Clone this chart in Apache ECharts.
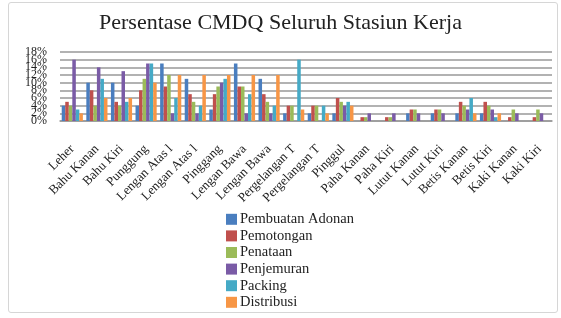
<!DOCTYPE html>
<html>
<head>
<meta charset="utf-8">
<script src="https://cdn.jsdelivr.net/npm/echarts@6/dist/echarts.min.js"></script>
<style>
  html, body { margin: 0; padding: 0; background: #fff; }
  #frame { position: absolute; left: 8px; top: 2px; width: 548px; height: 309px; border: 1px solid #d6d6d6; border-radius: 3px; }
  #main { position: absolute; left: 0; top: 0; width: 561px; height: 318px; }
</style>
</head>
<body>
<div id="frame"></div>
<div id="main"></div>
<script>
// kategori bagian tubuh (label terpotong seperti di gambar asli)
const categories = ['Leher','Bahu Kanan','Bahu Kiri','Punggung','Lengan Atas l','Lengan Atas l','Pinggang',
    'Lengan Bawa','Lengan Bawa','Pergelangan T','Pergelangan T','Pinggul','Paha Kanan','Paha Kiri',
    'Lutut Kanan','Lutut Kiri','Betis Kanan','Betis Kiri','Kaki Kanan','Kaki Kiri'];

const seriesNames = ['Pembuatan Adonan','Pemotongan','Penataan','Penjemuran','Packing','Distribusi'];

// persentase (%)
const pembuatanAdonan = [4,10,10,4,15,11,3,15,11,2,2,2,0,0,2,2,2,2,0,0];
const pemotongan      = [5,8,5,8,9,7,7,9,7,4,4,6,1,1,3,3,5,5,1,1];
const penataan        = [4,4,4,11,12,5,9,9,5,4,4,5,1,1,3,3,4,4,3,3];
const penjemuran      = [16,14,13,15,2,2,10,2,2,0,0,4,2,2,2,2,3,3,2,2];
const packing         = [3,11,5,15,6,4,11,7,4,16,4,5,0,0,0,0,6,1,0,0];
const distribusi      = [2,6,6,10,12,12,12,12,12,3,2,4,0,0,0,0,2,2,0,0];

const yTicks = [0,2,4,6,8,10,12,14,16,18];
const yTickLabels = yTicks.map(function (v) { return v + '%'; });

const colors = ['#4a7ebf','#c0504d','#9bbb59','#7a5ba6','#45aac6','#f79646'];
const serif = '"Liberation Serif", "DejaVu Serif", serif';

const myChart = echarts.init(document.getElementById('main'));
const allData = [pembuatanAdonan, pemotongan, penataan, penjemuran, packing, distribusi];

const option = {
    animation: false,
    color: colors,
    title: {
        text: 'Persentase CMDQ Seluruh Stasiun Kerja',
        left: 'center',
        top: 7,
        textStyle: { fontFamily: serif, fontSize: 22, fontWeight: 'normal', color: '#222' }
    },
    legend: {
        orient: 'vertical',
        left: 221,
        top: 206,
        itemWidth: 11,
        itemHeight: 11,
        itemGap: 0,
        icon: 'rect',
        data: seriesNames,
        textStyle: { fontFamily: serif, fontSize: 14.5, color: '#222', lineHeight: 16.6, padding: [0, 0, 0, -2] }
    },
    grid: { left: 60, right: 9, top: 52, bottom: 197 },
    xAxis: {
        type: 'category',
        data: categories,
        axisTick: { show: false },
        axisLine: { show: true, lineStyle: { color: '#999999', width: 1.5 } },
        splitLine: { show: false },
        axisLabel: {
            interval: 0,
            rotate: 45,
            margin: 26,
            fontFamily: serif,
            fontSize: 13,
            color: '#222'
        }
    },
    yAxis: [{
        type: 'value',
        min: yTicks[0],
        max: yTicks[yTicks.length - 1],
        interval: 2,
        axisLine: { show: false },
        axisTick: { show: false },
        axisLabel: { show: false },
        splitLine: { show: true, lineStyle: { color: '#999999', width: 1.5 } }
    }, {
        // sumbu kategori hanya untuk label persen agar semua label tampil
        type: 'category',
        position: 'left',
        data: yTickLabels,
        boundaryGap: false,
        axisLine: { show: false },
        axisTick: { show: false },
        splitLine: { show: false },
        axisLabel: {
            interval: 0,
            margin: 13,
            fontFamily: serif,
            fontSize: 12,
            color: '#222'
        }
    }],
    series: seriesNames.map(function (name, i) {
        return {
            name: name,
            type: 'bar',
            yAxisIndex: 0,
            data: allData[i],
            barGap: '0%',
            barCategoryGap: '14%',
            z: 5
        };
    })
};
myChart.setOption(option);
</script>
</body>
</html>
